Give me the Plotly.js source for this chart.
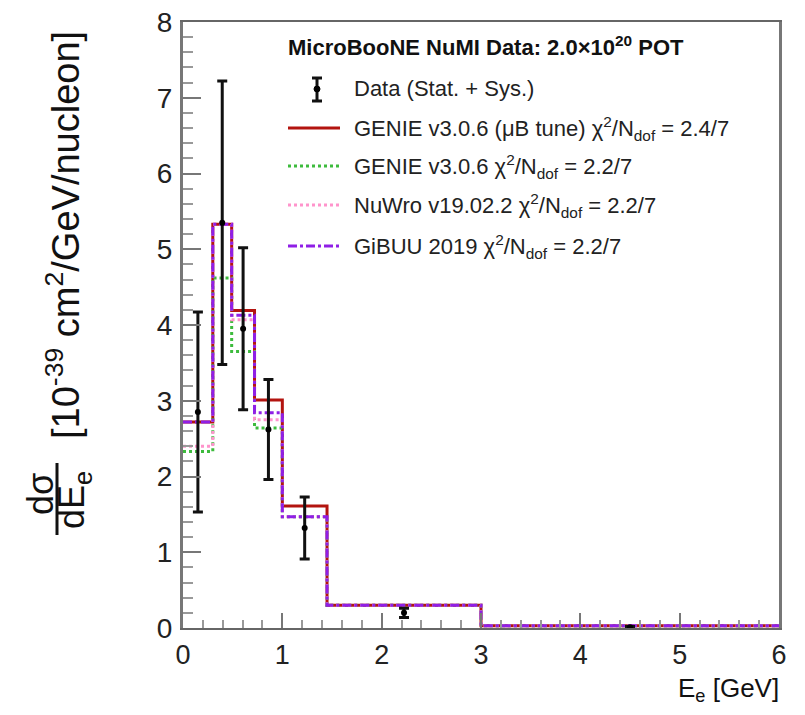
<!DOCTYPE html>
<html>
<head>
<meta charset="utf-8">
<script src="https://cdn.plot.ly/plotly-3.0.1.min.js"></script>
<style>
  html, body { margin: 0; padding: 0; background: #fff; }
  #chart { width: 805px; height: 715px; }
</style>
</head>
<body>
<div id="chart"></div>
<script>
// ---- data ----
const binEdges = [0, 0.3, 0.49, 0.72, 1.0, 1.45, 3.0, 6.0];
const genieMicroBooNE = [2.72, 5.33, 4.19, 3.01, 1.61, 0.30, 0.03];
const genieV306       = [2.33, 4.62, 3.65, 2.64, 1.47, 0.30, 0.03];
const nuwro           = [2.40, 5.33, 4.07, 2.75, 1.47, 0.30, 0.03];
const gibuu           = [2.72, 5.33, 4.13, 2.84, 1.47, 0.30, 0.03];
const dataValues      = [2.85, 5.35, 3.95, 2.62, 1.32, 0.20, 0.01];
const dataErrors      = [1.32, 1.87, 1.07, 0.66, 0.41, 0.06, 0.01];

const legendHeader = 'MicroBooNE NuMI Data: 2.0×10<sup>20</sup> POT';
const legendLabels = [
  'Data (Stat. + Sys.)',
  'GENIE v3.0.6 (μB tune) χ<sup>2</sup>/N<sub>dof</sub> = 2.4/7',
  'GENIE v3.0.6 χ<sup>2</sup>/N<sub>dof</sub> = 2.2/7',
  'NuWro v19.02.2 χ<sup>2</sup>/N<sub>dof</sub> = 2.2/7',
  'GiBUU 2019 χ<sup>2</sup>/N<sub>dof</sub> = 2.2/7'
];

// ---- helpers ----
function stepY(vals) { return vals.concat([vals[vals.length - 1]]); }
const centers = binEdges.slice(0, -1).map((e, i) => (e + binEdges[i + 1]) / 2);

const W = 805, H = 715;
const L = 183, R = 26, T = 22, B = 87;
const PW = W - L - R, PH = H - T - B;
function px(x) { return (x - L) / PW; }
function py(y) { return (H - B - y) / PH; }

const FONT = 'Liberation Sans, Arial, Helvetica, sans-serif';

const models = [
  { y: genieMicroBooNE, color: '#b3140f', dash: 'solid',   width: 3 },
  { y: genieV306,       color: '#3dbb3d', dash: 'dot',     width: 3 },
  { y: nuwro,           color: '#ff94cc', dash: 'dot',     width: 3 },
  { y: gibuu,           color: '#8f1fe6', dash: 'dashdot', width: 3 }
];

const traces = models.map(m => ({
  type: 'scatter', mode: 'lines',
  x: binEdges, y: stepY(m.y),
  line: { shape: 'hv', color: m.color, dash: m.dash, width: m.width },
  showlegend: false, hoverinfo: 'skip'
}));

traces.push({
  type: 'scatter', mode: 'markers',
  x: centers, y: dataValues,
  marker: { color: '#000', size: 6 },
  error_y: { type: 'data', array: dataErrors, visible: true, color: '#111', thickness: 3, width: 5 },
  showlegend: false, hoverinfo: 'skip'
});

// ---- legend (drawn manually) ----
const annotations = [];
const shapes = [];

annotations.push({
  xref: 'paper', yref: 'paper', x: px(286), y: py(46), xanchor: 'left', yanchor: 'middle',
  text: '<b>' + legendHeader + '</b>', showarrow: false,
  font: { family: FONT, size: 22, color: '#111' }
});

const rowY = [89, 128, 166, 205, 246];
const textX = 352;
// data symbol
shapes.push({ type: 'line', xref: 'paper', yref: 'paper', x0: px(317), x1: px(317), y0: py(78), y1: py(101), line: { color: '#111', width: 3 } });
shapes.push({ type: 'line', xref: 'paper', yref: 'paper', x0: px(312), x1: px(322), y0: py(78), y1: py(78), line: { color: '#111', width: 3 } });
shapes.push({ type: 'line', xref: 'paper', yref: 'paper', x0: px(312), x1: px(322), y0: py(101), y1: py(101), line: { color: '#111', width: 3 } });
shapes.push({ type: 'circle', xref: 'paper', yref: 'paper', x0: px(314), x1: px(320), y0: py(86), y1: py(92), fillcolor: '#000', line: { color: '#000', width: 1 } });

models.forEach((m, i) => {
  shapes.push({
    type: 'line', xref: 'paper', yref: 'paper',
    x0: px(288), x1: px(340), y0: py(rowY[i + 1]), y1: py(rowY[i + 1]),
    line: { color: m.color, width: 3, dash: m.dash }
  });
});

legendLabels.forEach((t, i) => {
  annotations.push({
    xref: 'paper', yref: 'paper', x: px(textX), y: py(rowY[i]), xanchor: 'left', yanchor: 'middle',
    text: t, showarrow: false, font: { family: FONT, size: 22, color: '#222' }
  });
});

// ---- axis titles ----
annotations.push({
  xref: 'paper', yref: 'paper', x: px(781), y: py(689), xanchor: 'right', yanchor: 'middle',
  text: 'E<sub>e</sub> [GeV]', showarrow: false, font: { family: FONT, size: 26, color: '#111' }
});
annotations.push({
  xref: 'paper', yref: 'paper', x: px(63), y: py(235), xanchor: 'center', yanchor: 'middle',
  text: '[10<sup>-39</sup> cm<sup>2</sup>/GeV/nucleon]', textangle: -90, showarrow: false,
  font: { family: FONT, size: 38, color: '#111' }
});
annotations.push({
  xref: 'paper', yref: 'paper', x: px(40), y: py(494), xanchor: 'center', yanchor: 'middle',
  text: 'dσ', textangle: -90, showarrow: false,
  font: { family: FONT, size: 36, color: '#111' }
});
annotations.push({
  xref: 'paper', yref: 'paper', x: px(74), y: py(500), xanchor: 'center', yanchor: 'middle',
  text: 'dE<sub>e</sub>', textangle: -90, showarrow: false,
  font: { family: FONT, size: 36, color: '#111' }
});
shapes.push({ type: 'line', xref: 'paper', yref: 'paper', x0: px(57), x1: px(57), y0: py(463), y1: py(535), line: { color: '#111', width: 3 } });

const layout = {
  width: W, height: H,
  margin: { l: L, r: R, t: T, b: B, pad: 0 },
  paper_bgcolor: '#fff', plot_bgcolor: '#fff',
  showlegend: false,
  font: { family: FONT, color: '#111' },
  xaxis: {
    range: [0, 6], dtick: 1, tick0: 0,
    ticks: 'inside', ticklen: 15, tickwidth: 2, tickcolor: '#777',
    minor: { dtick: 0.2, ticks: 'inside', ticklen: 8, tickwidth: 2, tickcolor: '#999', showgrid: false },
    showline: true, linecolor: '#666', linewidth: 2, mirror: true,
    showgrid: false, zeroline: false,
    tickfont: { family: FONT, size: 27, color: '#222' },
    ticklabelstandoff: 2
  },
  yaxis: {
    range: [0, 8], dtick: 1, tick0: 0,
    ticks: 'inside', ticklen: 18, tickwidth: 2, tickcolor: '#777',
    minor: { dtick: 0.2, ticks: 'inside', ticklen: 10, tickwidth: 2, tickcolor: '#999', showgrid: false },
    showline: true, linecolor: '#777', linewidth: 3, mirror: true,
    showgrid: false, zeroline: false,
    tickfont: { family: FONT, size: 28, color: '#222' },
    ticklabelstandoff: 2
  },
  annotations: annotations,
  shapes: shapes
};

Plotly.newPlot('chart', traces, layout, { staticPlot: true, displayModeBar: false });
</script>
</body>
</html>
